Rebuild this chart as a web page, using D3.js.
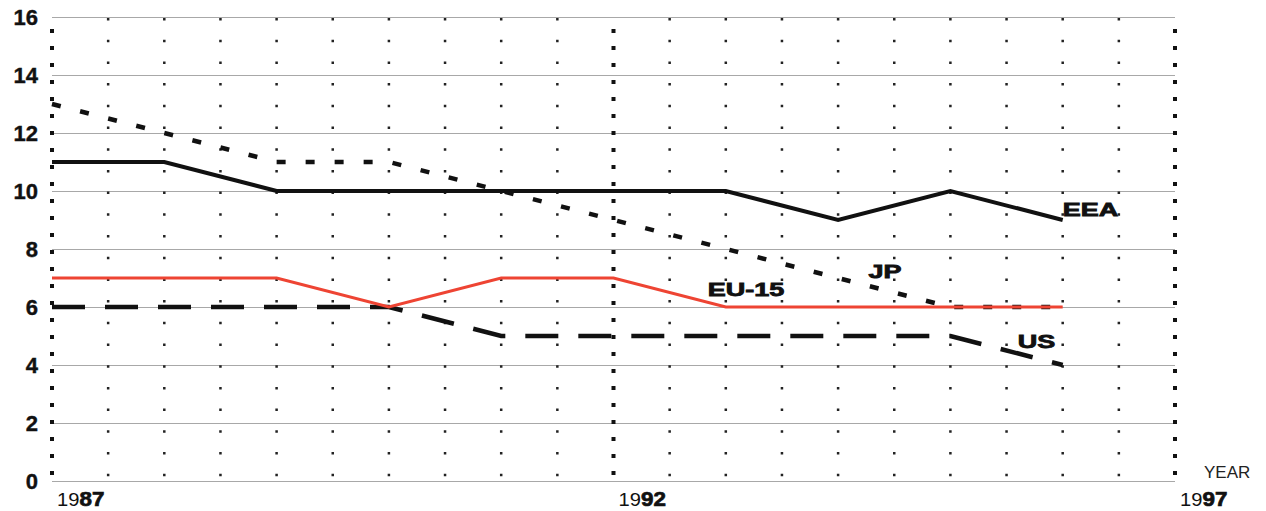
<!DOCTYPE html>
<html><head><meta charset="utf-8">
<script src="https://cdnjs.cloudflare.com/ajax/libs/d3/7.8.5/d3.min.js"></script>
<style>body{margin:0;background:#fff}svg{display:block}</style>
</head><body>
<script>
const years = [1987,1988,1989,1990,1991,1992,1993,1994,1995,1996];
const EEA = [11,11,10,10,10,10,10,9,10,9];
const JP  = [13,12,11,11,10,9,8,7,6,6];
const EU15 = [7,7,7,6,7,7,6,6,6,6];
const US  = [6,6,6,6,5,5,5,5,5,4];
const yTicks = [0,2,4,6,8,10,12,14,16];
const xTickYears = [1987,1992,1997];
const labels = [
  {name:"EEA", x:1996, y:9.15},
  {name:"JP", x:1994.27, y:7.0},
  {name:"EU-15", x:1992.84, y:6.38},
  {name:"US", x:1995.6, y:4.58}
];

const W=1266,H=511;
const svg=d3.select("body").append("svg").attr("width",W).attr("height",H);
const x=d3.scaleLinear().domain([1987,1997]).range([52,1175]);
const y=d3.scaleLinear().domain([0,16]).range([481,17]);
const font="'Liberation Sans', Arial, sans-serif";

// horizontal grid
const g=svg.append("g").attr("transform","translate(52,0)");
g.call(d3.axisLeft(y).tickValues(yTicks).tickSize(-(1175-52)).tickFormat(""))
 .call(s=>s.select(".domain").remove())
 .call(s=>s.selectAll(".tick line").attr("stroke","#a8a8a8").attr("stroke-width",1));

// y labels
const ya=svg.append("g").attr("transform","translate(38,0)");
ya.call(d3.axisLeft(y).tickValues(yTicks).tickSize(0).tickPadding(0))
  .call(s=>s.select(".domain").remove())
  .call(s=>s.selectAll("text").attr("font-family",font).attr("font-weight","bold").attr("font-size",22).attr("fill","#111").attr("stroke","#111").attr("stroke-width",0.4).attr("dy","0.36em"));

// vertical dotted lines
const halfYears=d3.range(1987.5,1997,0.5).filter(v=>!xTickYears.includes(v));
svg.append("g").selectAll("line").data(halfYears).join("line")
  .attr("x1",d=>x(d)).attr("x2",d=>x(d)).attr("y1",y(16)+1).attr("y2",y(0)-4)
  .attr("stroke","#222").attr("stroke-width",2.5).attr("stroke-dasharray","2.5 19.2");
svg.append("g").selectAll("line").data(xTickYears).join("line")
  .attr("x1",d=>x(d)).attr("x2",d=>x(d)).attr("y1",y(16)+12).attr("y2",y(0)-2)
  .attr("stroke","#111").attr("stroke-width",4).attr("stroke-dasharray","4 13");

// x labels
const xl=svg.append("g").selectAll("text").data(xTickYears).join("text")
  .attr("transform",d=>`translate(${x(d)+5},506) scale(1.12,1)`)
  .attr("font-family",font).attr("font-size",18).attr("fill","#111");
xl.append("tspan").text(d=>String(d).slice(0,2));
xl.append("tspan").attr("font-weight","bold").attr("font-size",20).attr("stroke","#111").attr("stroke-width",0.7).text(d=>String(d).slice(2));
svg.append("text").attr("x",1204).attr("y",478).attr("font-family",font).attr("font-size",17).attr("fill","#222").text("YEAR");

const line=d3.line().x((d,i)=>x(years[i])).y(d=>y(d));
const series=[
  {v:US, stroke:"#111", w:4.5, dash:"33 20"},
  {v:JP, stroke:"#111", w:4.5, dash:"9 20"},
  {v:EU15, stroke:"#ee4433", w:3, dash:null},
  {v:EEA, stroke:"#111", w:4, dash:null}
];
svg.append("g").selectAll("path").data(series).join("path")
  .attr("d",d=>line(d.v)).attr("fill","none").attr("stroke",d=>d.stroke)
  .attr("stroke-width",d=>d.w).attr("stroke-dasharray",d=>d.dash);

svg.append("g").selectAll("text").data(labels).join("text")
  .attr("transform",d=>`translate(${x(d.x)},${y(d.y)}) scale(1.5,1)`)
  .attr("font-family",font).attr("font-weight","bold")
  .attr("font-size",18).attr("fill","#111").attr("stroke","#111").attr("stroke-width",0.8).text(d=>d.name);
</script>
</body></html>
